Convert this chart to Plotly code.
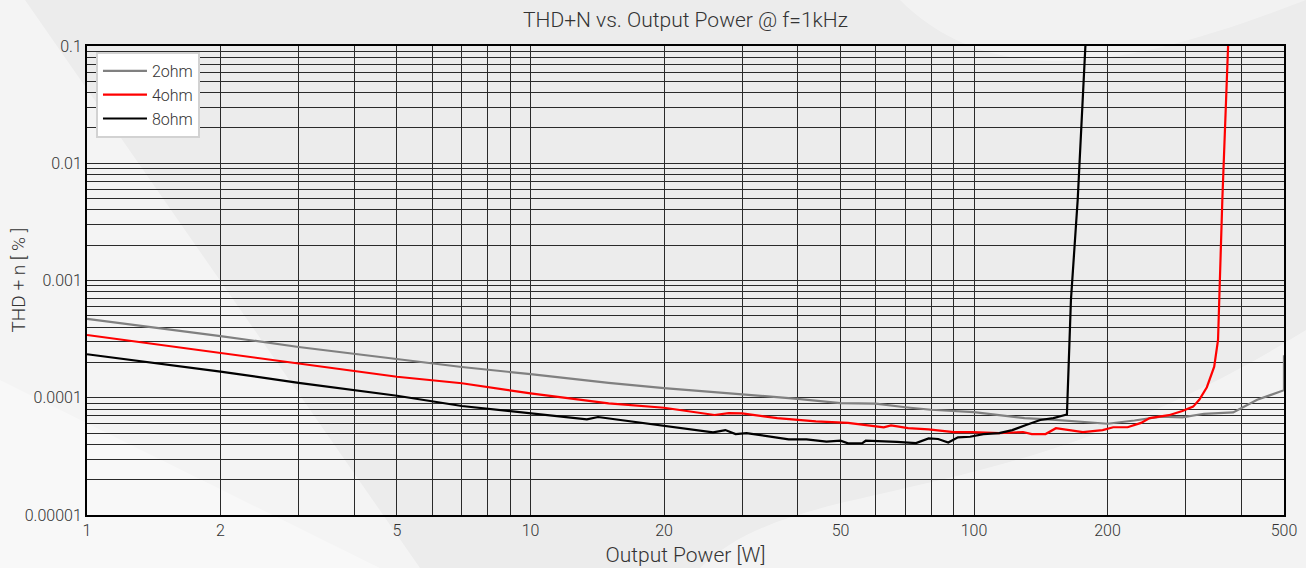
import plotly.graph_objects as go

# ---- data (Output power W, THD+N %) ----
p_2ohm = [1, 1.5, 2, 3, 5, 7, 10, 15, 20, 30, 40, 50, 60, 70, 80, 100, 120, 130, 150, 170,
          200, 230, 264, 295, 330, 384, 435, 500, 500]
thd_2ohm = [4.7e-4, 3.86e-4, 3.36e-4, 2.71e-4, 2.14e-4, 1.83e-4, 1.59e-4, 1.34e-4, 1.21e-4,
            1.07e-4, 9.8e-5, 9.0e-5, 8.9e-5, 8.3e-5, 7.9e-5, 7.55e-5, 6.9e-5, 6.7e-5, 6.5e-5,
            6.3e-5, 6.0e-5, 6.4e-5, 6.9e-5, 6.8e-5, 7.3e-5, 7.5e-5, 9.6e-5, 1.16e-4, 2.3e-4]

p_4ohm = [1, 2, 3, 5, 7, 10, 15, 20, 26, 28, 30, 36, 44, 52, 62.6, 65, 71, 79, 90, 99, 114,
          129, 135, 145, 153, 176, 195, 206, 222, 238, 249, 275, 295, 312, 322, 335, 348, 355,
          363, 372.6, 375]
thd_4ohm = [3.43e-4, 2.42e-4, 1.97e-4, 1.51e-4, 1.33e-4, 1.09e-4, 8.96e-5, 8.22e-5, 7.13e-5,
            7.4e-5, 7.35e-5, 6.7e-5, 6.3e-5, 6.1e-5, 5.6e-5, 5.8e-5, 5.5e-5, 5.38e-5, 5.1e-5,
            5.1e-5, 5.0e-5, 5.1e-5, 4.9e-5, 4.9e-5, 5.5e-5, 5.1e-5, 5.3e-5, 5.6e-5, 5.6e-5,
            6.1e-5, 6.7e-5, 7.1e-5, 7.7e-5, 8.4e-5, 9.6e-5, 1.23e-4, 1.84e-4, 3.11e-4,
            4.86e-3, 0.1, 0.13]

p_8ohm = [1, 2, 3, 4, 5, 7, 10, 13.4, 14.2, 20, 25.8, 27.5, 29, 30.7, 32.9, 38.2, 41.9, 46.5,
          50, 52, 56, 57, 67, 74, 79, 83, 87.5, 92, 98, 105, 114, 122, 131, 141, 151, 162,
          165.4, 171.3, 178.3, 180]
thd_8ohm = [2.35e-4, 1.67e-4, 1.34e-4, 1.16e-4, 1.04e-4, 8.5e-5, 7.37e-5, 6.55e-5, 6.85e-5,
            5.74e-5, 5.07e-5, 5.3e-5, 4.9e-5, 5.0e-5, 4.8e-5, 4.42e-5, 4.42e-5, 4.22e-5,
            4.3e-5, 4.09e-5, 4.1e-5, 4.3e-5, 4.2e-5, 4.1e-5, 4.5e-5, 4.45e-5, 4.15e-5, 4.6e-5,
            4.65e-5, 4.9e-5, 5.0e-5, 5.3e-5, 5.86e-5, 6.46e-5, 6.7e-5, 7.2e-5, 6.8e-4,
            4.86e-3, 0.1, 0.12]

x_grid = [1, 2, 3, 4, 5, 6, 7, 8, 9, 10, 20, 30, 40, 50, 60, 70, 80, 90, 100, 200, 300, 400, 500]
x_labels = ["1", "2", "", "", "5", "", "", "", "", "10", "20", "", "", "50", "", "", "", "",
            "100", "200", "", "", "500"]
y_grid = [m * 10 ** e for e in (-5, -4, -3, -2) for m in range(1, 10)] + [0.1]
y_decade_labels = {-5: "0.00001", -4: "0.0001", -3: "0.001", -2: "0.01"}
y_labels = []
for e in (-5, -4, -3, -2):
    for m in range(1, 10):
        y_labels.append(y_decade_labels[e] if m == 1 else "")
y_labels.append("0.1")

FONT = "Roboto"
TXT = "#333333"
W = 300

fig = go.Figure()
fig.add_trace(go.Scatter(x=p_2ohm, y=thd_2ohm, mode="lines", name="2ohm",
                         line=dict(color="#808080", width=2.2)))
fig.add_trace(go.Scatter(x=p_4ohm, y=thd_4ohm, mode="lines", name="4ohm",
                         line=dict(color="#ff0000", width=2.2)))
fig.add_trace(go.Scatter(x=p_8ohm, y=thd_8ohm, mode="lines", name="8ohm",
                         line=dict(color="#000000", width=2.2)))


def px(x):
    return (x - 87) / 1197.0


def py(y):
    return (515 - y) / 469.0


# subtle background swirl-like bands
shapes = [
    dict(type="path", xref="paper", yref="paper", layer="below",
         path=f"M {px(0)},{py(0)} L {px(25)},{py(0)} L {px(420)},{py(568)} L {px(0)},{py(568)} Z",
         fillcolor="rgba(255,255,255,0.45)", line=dict(width=0)),
    dict(type="path", xref="paper", yref="paper", layer="below",
         path=f"M {px(0)},{py(380)} L {px(380)},{py(568)} L {px(0)},{py(568)} Z",
         fillcolor="rgba(255,255,255,0.35)", line=dict(width=0)),
    dict(type="path", xref="paper", yref="paper", layer="below",
         path=(f"M {px(700)},{py(568)} C {px(800)},{py(470)} {px(1000)},{py(520)} {px(1306)},{py(330)} "
               f"L {px(1306)},{py(568)} Z"),
         fillcolor="rgba(255,255,255,0.4)", line=dict(width=0)),
    dict(type="path", xref="paper", yref="paper", layer="below",
         path=(f"M {px(900)},{py(0)} C {px(1000)},{py(100)} {px(1150)},{py(60)} {px(1306)},{py(0)} Z"),
         fillcolor="rgba(255,255,255,0.35)", line=dict(width=0)),
]

fig.update_layout(
    width=1306, height=568,
    margin=dict(l=87, r=22, t=46, b=53),
    paper_bgcolor="#ececec",
    plot_bgcolor="rgba(0,0,0,0)",
    shapes=shapes,
    font=dict(family=FONT, color=TXT, size=15, weight=W),
    title=dict(text="THD+N vs. Output Power @ f=1kHz", x=0.5, xref="paper", xanchor="center",
               y=1 - 20 / 568, yanchor="middle",
               font=dict(size=21, color=TXT, family=FONT, weight=W)),
    showlegend=True,
    legend=dict(x=0.0075, y=py(52), xanchor="left", yanchor="top", bgcolor="#ffffff",
                bordercolor="#d2d2d2", borderwidth=2, font=dict(size=16, color=TXT, weight=W),
                itemwidth=44),
    annotations=[dict(text="THD + n [ % ]", xref="paper", yref="paper", x=px(18), y=0.5,
                      xanchor="center", yanchor="middle", textangle=-90, showarrow=False,
                      font=dict(size=19, color=TXT, weight=W))],
    xaxis=dict(type="log", range=[0, 2.69897], tickmode="array", tickvals=x_grid, ticktext=x_labels,
               showgrid=True, gridcolor="#2a2a2a", gridwidth=1, ticks="", zeroline=False,
               showline=True, linecolor="#000000", linewidth=2, mirror=True, automargin=False,
               tickfont=dict(size=16, color=TXT, weight=W),
               title=dict(text="Output Power [W]", font=dict(size=21, color=TXT, weight=W), standoff=8)),
    yaxis=dict(type="log", range=[-5, -1], tickmode="array", tickvals=y_grid, ticktext=y_labels,
               showgrid=True, gridcolor="#2a2a2a", gridwidth=1, ticks="", zeroline=False,
               showline=True, linecolor="#000000", linewidth=2, mirror=True, automargin=False,
               tickfont=dict(size=16, color=TXT, weight=W)),
)

fig.write_html("out.html", config={"displayModeBar": False},
               post_script="document.body.style.margin='0';document.body.style.overflow='hidden';")
